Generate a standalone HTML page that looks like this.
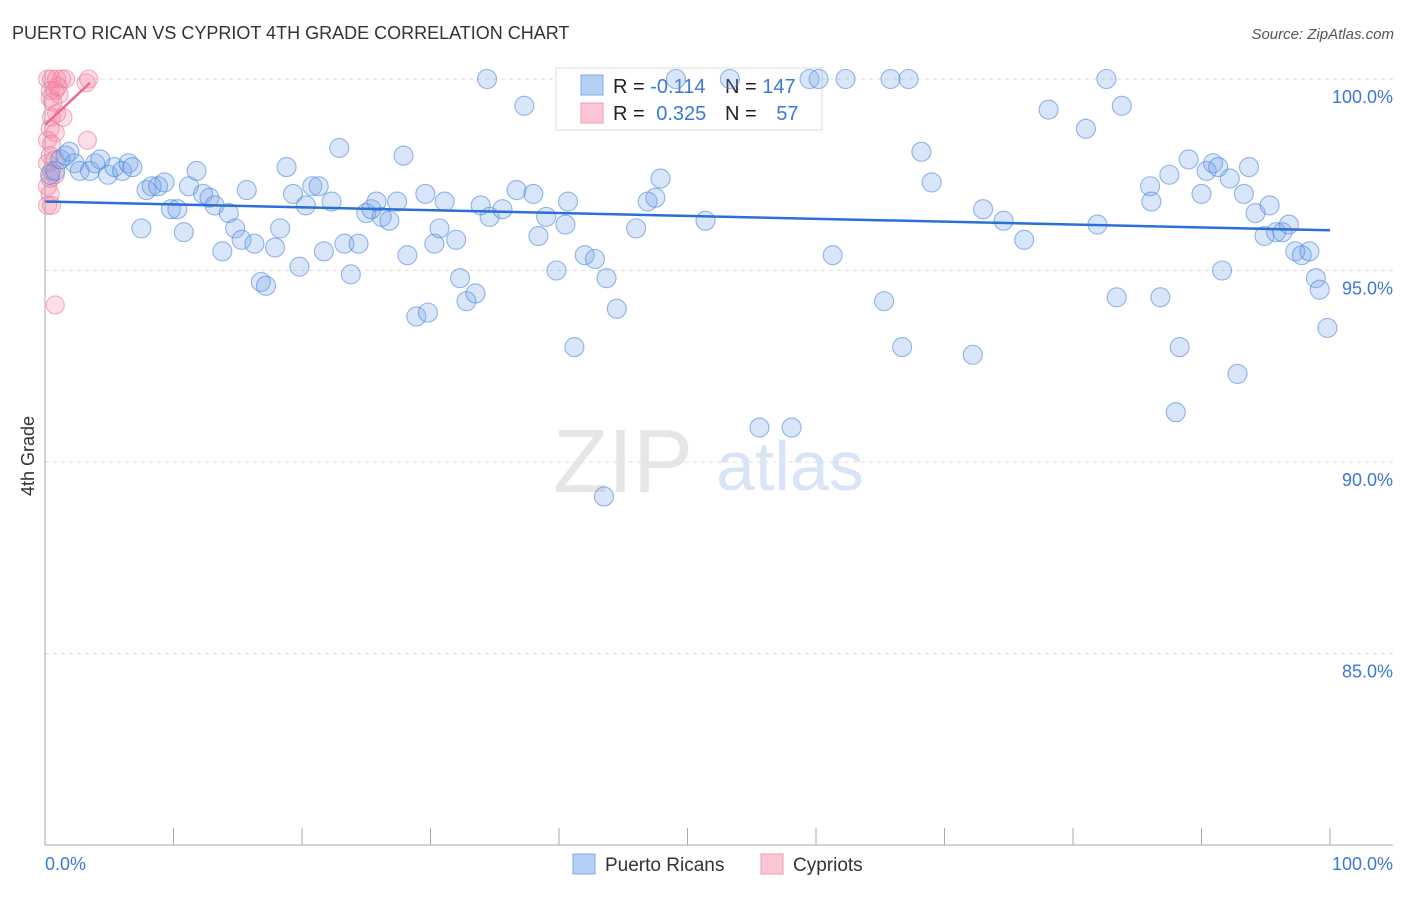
<!DOCTYPE html>
<html><head><meta charset="utf-8"><style>
body{margin:0;background:#fff;font-family:"Liberation Sans",sans-serif}
svg text{font-family:"Liberation Sans",sans-serif}
</style></head><body>
<svg id="chart" width="1406" height="892" viewBox="0 0 1406 892">
<text x="12" y="39" font-size="18" fill="#333">PUERTO RICAN VS CYPRIOT 4TH GRADE CORRELATION CHART</text>
<text x="1394" y="39" font-size="15" fill="#555" font-style="italic" text-anchor="end">Source: ZipAtlas.com</text>
<g id="grid"></g>
<g><text x="553" y="492" font-size="90" font-family="Liberation Serif" fill="#e6e6e6">ZIP</text><text x="716" y="490" font-size="70" fill="#d8e5f6">atlas</text></g>
<g>
<rect x="556" y="68" width="266" height="62" fill="#fff" stroke="#ddd"/>
<rect x="581" y="75" width="22" height="20" fill="#b6cff5" stroke="#7fa8e6"/>
<rect x="581" y="103" width="22" height="20" fill="#fcc6d4" stroke="#f09ab3"/>
<text x="613" y="93" font-size="20" fill="#222">R = <tspan fill="#3b78d8">-0.114</tspan></text>
<text x="725" y="93" font-size="20" fill="#222">N = <tspan fill="#3b78d8">147</tspan></text>
<text x="613" y="120" font-size="20" fill="#222">R = <tspan fill="#3b78d8" dx="6">0.325</tspan></text>
<text x="725" y="120" font-size="20" fill="#222">N = <tspan fill="#3b78d8" dx="14">57</tspan></text>
</g>
<g id="marks"></g>
<g id="axes"></g>
<text x="34" y="456" font-size="18" fill="#333" transform="rotate(-90 34 456)" text-anchor="middle">4th Grade</text>
<g>
<rect x="573" y="854" width="22" height="20" fill="#b6cff5" stroke="#7fa8e6"/>
<text x="605" y="871" font-size="19" fill="#333">Puerto Ricans</text>
<rect x="761" y="854" width="22" height="20" fill="#fcc6d4" stroke="#f09ab3"/>
<text x="793" y="871" font-size="19" fill="#333">Cypriots</text>
</g>
</svg>
<script>
const yTicks=[100,95,90,85];
const yTickLabels=["100.0%","95.0%","90.0%","85.0%"];
const xTickLabels=["0.0%","100.0%"];
const blueX=[0.4,0.8,1.2,1.6,1.9,2.3,2.7,3.5,3.9,4.3,4.9,5.4,6.0,6.5,6.8,7.5,7.9,8.3,8.8,9.3,9.8,10.3,10.8,11.2,11.8,12.3,12.8,13.2,13.8,14.3,14.8,15.3,15.7,16.3,16.8,17.2,17.9,18.3,18.8,19.3,19.8,20.3,20.8,21.3,21.7,22.3,22.9,23.3,23.8,24.4,25.0,25.4,25.8,26.2,26.8,27.4,27.9,28.2,28.9,29.6,29.8,30.3,30.7,31.1,32.0,32.3,32.8,33.5,33.9,34.4,34.6,35.6,36.7,37.3,38.0,38.4,39.0,39.8,40.5,40.7,41.2,42.0,42.8,43.5,43.7,44.5,46.0,46.9,47.5,47.9,49.1,51.4,53.3,55.6,58.1,59.5,60.2,62.3,61.3,65.3,65.8,66.7,67.2,68.2,69.0,72.2,73.0,74.6,76.2,78.1,81.0,81.9,82.6,83.4,83.8,86.0,86.1,86.8,87.5,88.0,88.3,89.0,90.0,90.4,90.9,91.3,91.6,92.2,92.8,93.3,93.7,94.2,94.9,95.3,95.8,96.3,96.8,97.3,97.8,98.4,98.9,99.2,99.8];
const blueY=[97.5,97.6,97.9,98.0,98.1,97.8,97.6,97.6,97.8,97.9,97.5,97.7,97.6,97.8,97.7,96.1,97.1,97.2,97.2,97.3,96.6,96.6,96.0,97.2,97.6,97.0,96.9,96.7,95.5,96.5,96.1,95.8,97.1,95.7,94.7,94.6,95.6,96.1,97.7,97.0,95.1,96.7,97.2,97.2,95.5,96.8,98.2,95.7,94.9,95.7,96.5,96.6,96.8,96.4,96.3,96.8,98.0,95.4,93.8,97.0,93.9,95.7,96.1,96.8,95.8,94.8,94.2,94.4,96.7,100,96.4,96.6,97.1,99.3,97.0,95.9,96.4,95.0,96.2,96.8,93.0,95.4,95.3,89.1,94.8,94.0,96.1,96.8,96.9,97.4,100,96.3,100,90.9,90.9,100,100,100,95.4,94.2,100,93.0,100,98.1,97.3,92.8,96.6,96.3,95.8,99.2,98.7,96.2,100,94.3,99.3,97.2,96.8,94.3,97.5,91.3,93.0,97.9,97.0,97.6,97.8,97.7,95.0,97.4,92.3,97.0,97.7,96.5,95.9,96.7,96.0,96.0,96.2,95.5,95.4,95.5,94.8,94.5,93.5];
const pinkX=[0.2,0.5,0.9,1.3,1.6,3.2,3.4,0.4,0.8,1.1,0.5,0.9,1.4,0.4,0.8,0.2,0.5,3.3,0.4,0.8,0.2,0.5,0.4,0.2,0.8,0.4,0.2,0.5,0.8,0.4,1.0,0.6];
const pinkY=[100,100,100,100,100,99.9,100,99.7,99.7,99.6,99.0,99.1,99.0,98.7,98.6,98.4,98.3,98.4,98.0,97.9,97.8,97.6,97.4,97.2,97.5,97.0,96.7,96.7,94.1,99.5,99.8,99.4];
const blueTrend=[96.8,96.05];
const pinkTrend=[98.8,99.9,3.5];
const NS="http://www.w3.org/2000/svg";
const X0=45,X1=1330,Y100=79,PXPER=38.3;
const sx=v=>X0+(X1-X0)*v/100;
const sy=v=>Y100+(100-v)*PXPER;
function mk(tag,attrs,parent){const e=document.createElementNS(NS,tag);for(const k in attrs)e.setAttribute(k,attrs[k]);parent.appendChild(e);return e;}
const grid=document.getElementById('grid'),marks=document.getElementById('marks'),axes=document.getElementById('axes');
yTicks.forEach((t,i)=>{
 const l=mk('line',{x1:45,x2:1393,y1:sy(t),y2:sy(t),stroke:'#ddd','stroke-dasharray':'4,4'},grid);
 
 
 const tx=mk('text',{x:1393,y:sy(t)+24,'font-size':18,fill:'#3b78d8','text-anchor':'end'},axes);
 tx.textContent=yTickLabels[i];
 
 
});
const ax=mk('line',{x1:45,x2:45,y1:70,y2:845,stroke:'#aaa'},axes);


const bx=mk('line',{x1:45,x2:1393,y1:845,y2:845,stroke:'#aaa'},axes);


for(let i=0;i<=10;i++){
 const t=mk('line',{x1:sx(i*10),x2:sx(i*10),y1:828,y2:845,stroke:'#aaa'},axes);
 
 
}
[[0,'start',45],[1,'end',1393]].forEach(([i,a,x])=>{
 const t=mk('text',{x:x,y:870,'font-size':18,fill:'#3b78d8','text-anchor':a},axes);
 t.textContent=xTickLabels[i];
 
 
});
pinkX.forEach((x,i)=>{
 const c=mk('circle',{cx:sx(x),cy:sy(pinkY[i]),r:9,fill:'rgba(245,140,170,0.28)',stroke:'rgba(238,120,155,0.6)','stroke-width':1.1},marks);
 
 
});
blueX.forEach((x,i)=>{
 const c=mk('circle',{cx:sx(x),cy:sy(blueY[i]),r:9.5,fill:'rgba(120,165,235,0.28)',stroke:'rgba(80,135,220,0.6)','stroke-width':1.1},marks);
 
 
});
const bt=mk('line',{x1:sx(0),y1:sy(blueTrend[0]),x2:sx(100),y2:sy(blueTrend[1]),stroke:'#2a6fd6','stroke-width':2.5},marks);


const pt=mk('line',{x1:sx(0),y1:sy(pinkTrend[0]),x2:sx(pinkTrend[2]),y2:sy(pinkTrend[1]),stroke:'#ec6a92','stroke-width':2.5},marks);


</script>
</body></html>
